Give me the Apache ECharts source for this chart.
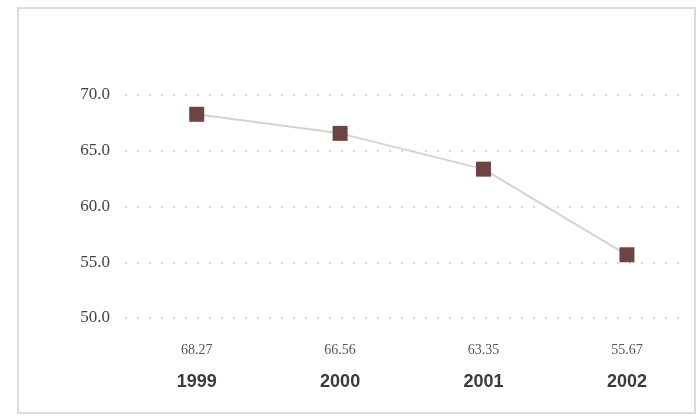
<!DOCTYPE html>
<html>
<head>
<meta charset="utf-8">
<script src="https://cdn.jsdelivr.net/npm/echarts@6/dist/echarts.min.js"></script>
<style>
  html, body { margin: 0; padding: 0; background: #fff; }
  #chart { width: 698px; height: 420px; }
</style>
</head>
<body>
<div id="chart"></div>
<script>
// Yearly values, one marker per year
const years = [1999, 2000, 2001, 2002];
const values = [68.27, 66.56, 63.35, 55.67];
const yTicks = [50, 55, 60, 65, 70];

const chart = echarts.init(document.getElementById('chart'), null, { renderer: 'canvas' });

const serif = '"Liberation Serif", "DejaVu Serif", serif';
const sans = '"Liberation Sans", Arial, sans-serif';

chart.setOption({
  backgroundColor: '#ffffff',
  animation: false,
  graphic: [{
    type: 'rect',
    silent: true,
    shape: { x: 18, y: 8, width: 677, height: 405 },
    style: { fill: 'none', stroke: '#dcdcdc', lineWidth: 2 }
  }],
  grid: { left: 125, right: 18, top: 95, bottom: 102 },
  xAxis: {
    type: 'value',
    min: 1998.5,
    max: 2002.37,
    axisLine: { show: false },
    axisTick: { show: false },
    splitLine: { show: false },
    axisLabel: {
      customValues: years,
      margin: 17,
      formatter: function (v) {
        const i = years.indexOf(Math.round(v));
        return '{v|' + values[i].toFixed(2) + '}\n{y|' + years[i] + '}';
      },
      rich: {
        v: { fontFamily: serif, fontSize: 14, color: '#555', lineHeight: 30, align: 'center' },
        y: { fontFamily: sans, fontSize: 18, fontWeight: 'bold', color: '#3a3a3a', lineHeight: 34, align: 'center' }
      }
    }
  },
  yAxis: {
    type: 'value',
    min: yTicks[0],
    max: yTicks[yTicks.length - 1],
    interval: 5,
    axisLine: { show: false },
    axisTick: { show: false },
    axisLabel: {
      margin: 15,
      fontFamily: serif,
      fontSize: 17,
      color: '#444',
      formatter: function (v) { return v.toFixed(1); }
    },
    splitLine: {
      show: true,
      lineStyle: { color: '#dadada', width: 2, type: [2, 10] }
    }
  },
  series: [{
    type: 'line',
    data: years.map((y, i) => [y, values[i]]),
    symbol: 'rect',
    symbolSize: 15,
    itemStyle: { color: '#6d4444' },
    lineStyle: { color: '#dccfcf', width: 2 },
    label: { show: false }
  }]
});
</script>
</body>
</html>
